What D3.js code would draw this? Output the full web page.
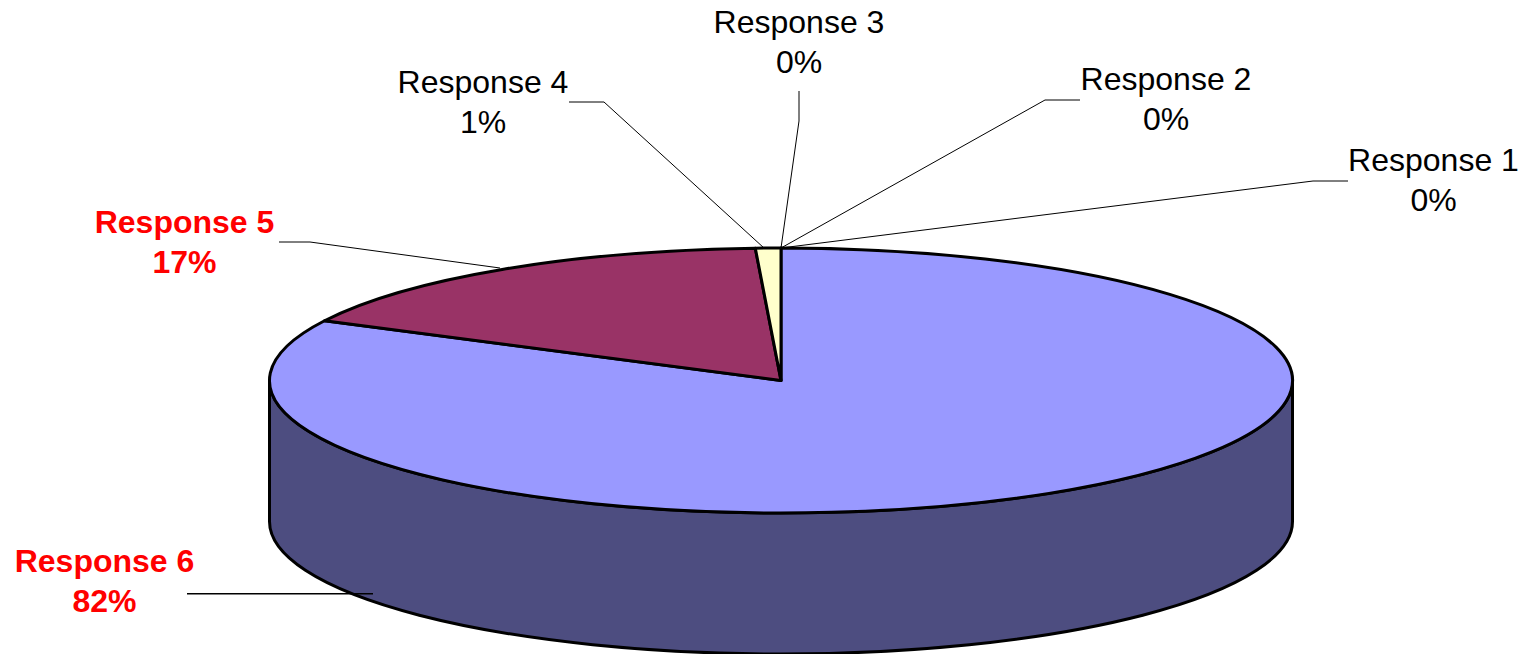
<!DOCTYPE html>
<html><head><meta charset="utf-8">
<script src="https://cdn.jsdelivr.net/npm/d3@7/dist/d3.min.js"></script>
<style>html,body{margin:0;background:#fff}svg{display:block}text{font-family:"Liberation Sans",Arial,sans-serif;font-size:32px}</style>
</head><body><svg id="c" width="1527" height="654"></svg>
<script>
const categories = ["Response 1","Response 2","Response 3","Response 4","Response 5","Response 6"];
const seriesValues = [0,0,0,0.8,16.75,82.45];
const percentLabels = ["0%","0%","0%","1%","17%","82%"];
const sliceFills = ["#ff8080","#660066","#ccffff","#ffffcc","#993366","#9999ff"];
const wallFill = "#4d4d80";
const highlighted = ["Response 5","Response 6"];
const labelAnchors = [[1433.5,171],[1166,90],[799,33],[483,93],[184.5,233],[104.5,572]];
const leaderPaths = [
  [[1348,181],[1313,181],[781,248]],
  [[1080,100],[1045,100],[781,248]],
  [[799,91],[799,121],[781,248]],
  [[569,102],[604,102],[764,248]],
  [[279,242],[310,242],[500,268]],
  [[187,593.8],[373,593.8]]
];

const svg = d3.select("#c");
const cx = 781, cy = 380.5, rx = 511.5, ry = 132.5, depth = 141;

// Angles run clockwise from twelve o'clock, going round from the last response to the first;
// each slice is flattened onto the ellipse of the top face.
const slices = categories.map((c,i)=>({c,v:seriesValues[i],fill:sliceFills[i]})).reverse();
const arcs = d3.pie().sort(null).value(d=>d.v)(slices);
const px = a => cx + rx*Math.sin(a), py = a => cy - ry*Math.cos(a);

// Visible wall below the front half of the top face
const wall = `M${cx-rx},${cy}L${cx-rx},${cy+depth}A${rx},${ry} 0 0 0 ${cx+rx},${cy+depth}L${cx+rx},${cy}A${rx},${ry} 0 0 1 ${cx-rx},${cy}Z`;
svg.append("path").attr("d",wall).attr("fill",wallFill).attr("stroke","#000").attr("stroke-width",3);

// Top face: Response 6 starts at twelve o'clock and the rest follow clockwise
svg.append("g").selectAll("path").data(arcs.filter(d=>d.data.v>0)).join("path")
 .attr("d",d=>{
   const large = d.endAngle-d.startAngle>Math.PI?1:0;
   return `M${cx},${cy}L${px(d.startAngle)},${py(d.startAngle)}A${rx},${ry} 0 ${large} 1 ${px(d.endAngle)},${py(d.endAngle)}Z`;
 })
 .attr("fill",d=>d.data.fill).attr("stroke","#000").attr("stroke-width",3).attr("stroke-linejoin","round");

// Leader lines; the straight one for Response 6 is a little heavier
svg.append("g").selectAll("path").data(leaderPaths).join("path")
 .attr("d",d3.line()).attr("fill","none").attr("stroke","#000")
 .attr("stroke-width",(d,i)=>i===leaderPaths.length-1?1.6:1);

// Two-line labels: name, then percentage
const labels = svg.append("g").selectAll("text").data(categories).join("text")
 .attr("text-anchor","middle")
 .attr("x",(d,i)=>labelAnchors[i][0]).attr("y",(d,i)=>labelAnchors[i][1])
 .attr("fill",d=>highlighted.includes(d)?"#ff0000":"#000")
 .attr("font-weight",d=>highlighted.includes(d)?"bold":"normal");
labels.append("tspan").attr("x",(d,i)=>labelAnchors[i][0]).text(d=>d);
labels.append("tspan").attr("x",(d,i)=>labelAnchors[i][0]).attr("dy",39.5).text((d,i)=>percentLabels[i]);
</script></body></html>
